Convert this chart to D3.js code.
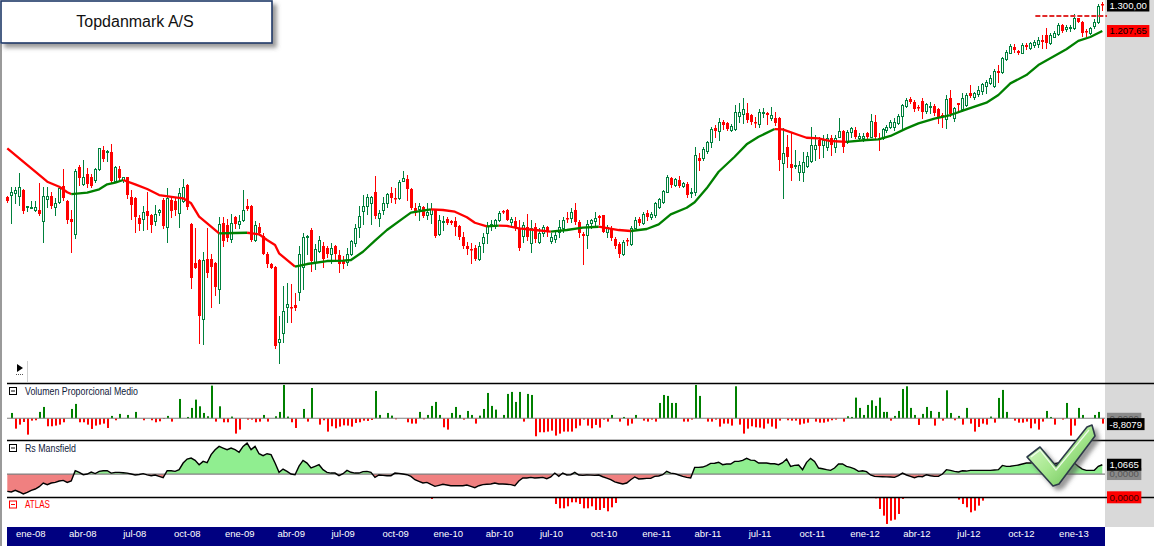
<!DOCTYPE html>
<html><head><meta charset="utf-8">
<script src="https://cdn.jsdelivr.net/npm/d3@7/dist/d3.min.js"></script>
<style>
html,body{margin:0;padding:0;background:#fff;overflow:hidden;}
svg{display:block;}
text{font-family:"Liberation Sans",Arial,sans-serif;}
</style></head><body>
<svg id="chart" width="1154" height="546"></svg>
<script>
// ---------------- DATA ----------------
const title = "Topdanmark A/S";
const startWeek = "2007-11-26";           // first weekly bar
const openP = [755,760,763,757,770,735,732,727,727,706,750,757,733,744,779,746,709,680,821,782,805,798,792,816,862,859,858,790,817,792,798,754,753,712,709,725,718,705,723,748,694,748,746,721,747,781,700,626,631,534,633,633,626,581,702,697,670,714,700,707,736,736,669,694,676,642,625,619,500,514,552,553,555,577,619,675,687,628,648,657,653,642,657,640,630,628,642,663,693,726,736,743,765,712,727,741,763,752,752,790,794,771,732,729,733,717,719,727,679,705,710,706,706,695,673,657,652,654,633,663,681,697,695,708,726,727,704,705,689,676,693,663,694,665,682,694,666,670,684,692,711,712,727,704,679,678,702,705,715,717,684,692,670,660,642,668,660,692,710,702,722,714,717,734,744,766,796,781,792,779,782,763,766,844,842,860,882,918,910,934,930,912,915,950,954,957,952,934,927,957,957,943,944,943,830,870,829,823,811,809,825,836,865,887,874,870,893,870,895,910,882,908,912,891,892,904,895,933,893,891,912,919,921,931,949,977,996,989,974,991,963,974,977,968,952,940,998,945,984,967,979,1012,1001,1010,1020,1033,1041,1033,1079,1076,1115,1136,1155,1141,1136,1161,1150,1161,1163,1177,1194,1166,1189,1197,1228,1216,1219,1217,1252,1240,1209,1200,1226,1240,1305];
const highP = [757,776,777,807,771,736,746,746,785,777,777,766,752,777,816,748,727,816,826,838,819,805,819,868,872,862,876,825,824,799,799,770,755,717,736,765,720,738,729,752,774,755,752,774,794,782,702,692,633,645,691,642,628,714,714,710,719,716,717,770,750,738,705,702,681,646,626,621,538,587,591,590,575,657,682,678,691,661,676,665,657,662,659,649,639,653,669,699,736,759,761,757,802,727,754,764,777,775,792,812,803,774,741,743,736,741,743,729,717,715,714,707,714,697,684,665,662,659,665,682,704,707,710,726,727,729,714,714,707,704,719,708,702,691,698,695,681,684,707,714,723,732,741,707,684,707,710,724,717,718,697,696,674,664,668,671,696,714,714,724,727,724,745,753,770,803,799,797,802,788,787,774,870,854,870,884,921,925,943,938,932,927,979,984,1000,984,956,947,968,970,959,974,959,947,917,900,908,862,836,858,858,921,900,895,900,903,900,900,945,912,912,921,919,904,904,908,955,952,904,917,925,939,943,956,982,998,1003,993,979,998,986,988,982,972,957,1007,1022,974,984,1012,1012,1036,1017,1033,1043,1051,1066,1083,1097,1123,1144,1164,1164,1144,1166,1168,1172,1179,1188,1194,1217,1200,1209,1234,1231,1228,1228,1267,1254,1243,1213,1222,1248,1304,1312];
const lowP = [745,702,741,738,722,725,731,725,717,665,734,731,718,741,748,702,646,671,781,781,777,776,788,815,836,836,788,788,792,788,752,710,684,687,687,690,684,697,717,692,664,714,717,694,745,729,584,617,499,498,602,552,572,559,656,666,664,692,692,705,727,666,666,678,642,619,617,492,471,501,529,529,548,564,581,642,612,615,645,619,637,626,631,611,617,622,640,657,674,700,719,700,712,695,720,734,745,743,750,790,748,729,717,708,714,710,702,673,678,687,700,700,678,670,654,643,626,631,631,646,662,687,691,705,721,707,697,687,649,665,668,646,665,663,675,676,662,665,674,684,704,704,700,674,625,653,691,694,700,683,674,668,653,637,640,659,659,691,697,700,707,710,714,731,741,765,777,779,777,777,755,755,759,815,838,854,870,895,887,916,912,910,912,934,931,934,927,921,921,947,927,938,925,815,752,822,792,820,792,790,822,834,838,842,846,862,850,858,894,858,880,895,892,887,884,889,894,891,862,889,908,917,912,928,917,974,984,964,965,945,957,957,952,931,919,917,949,936,961,964,977,1003,995,1005,1010,1012,1039,1030,1046,1073,1112,1134,1139,1131,1134,1147,1147,1155,1155,1150,1150,1164,1186,1194,1205,1209,1209,1213,1240,1191,1191,1197,1217,1237,1282];
const closeP = [746,765,770,776,725,736,733,734,719,757,757,736,741,774,752,707,704,812,797,799,782,779,816,866,840,860,790,821,796,798,760,738,714,699,723,716,698,720,727,695,752,726,727,763,776,734,600,618,538,631,609,619,585,700,666,671,702,700,705,727,729,668,697,681,643,624,618,495,505,546,557,551,551,643,674,676,630,651,668,633,642,653,642,625,625,643,667,691,715,736,754,754,716,722,743,761,753,751,788,796,771,732,722,736,715,724,729,676,707,706,702,702,694,673,656,651,649,634,657,673,695,699,708,721,723,708,709,693,654,697,674,691,670,682,694,684,674,678,694,707,709,724,704,681,676,699,708,712,712,684,694,671,656,643,665,666,692,707,702,720,714,720,741,750,768,799,781,794,779,785,760,766,850,836,865,882,915,910,933,925,915,923,959,961,968,939,934,930,961,959,951,952,930,838,854,846,819,826,826,834,848,874,874,873,887,893,874,893,910,870,908,917,894,897,897,895,936,894,889,914,921,934,934,949,979,993,989,967,970,961,981,977,958,947,947,995,955,970,980,998,1007,1005,1012,1022,1039,1046,1056,1079,1073,1118,1139,1158,1144,1134,1161,1155,1166,1172,1179,1171,1166,1194,1202,1228,1209,1222,1222,1252,1240,1200,1205,1217,1240,1296,1300];
const maWeek  = [0,3,7,10,13,15,16,20,23,25,27,29,32,35,38,42,44,46,48,51,53,57,60,63,65,67,68,72,75,80,84,86,89,92,95,99,101,104,106,109,112,115,117,120,123,125,128,132,136,140,144,148,153,156,160,163,166,170,172,175,178,182,185,188,192,194,198,200,203,206,210,215,218,221,225,228,232,236,240,245,248,251,255,258,261,265,268,271,274];
const maValue = [866.3,842,810.7,788.1,777,764.8,761,764,771.3,782.3,785.9,791.9,782.3,772,758.9,754,751.9,741.3,713.7,693.7,680.9,681.5,682,679,668.1,658.7,643.3,619.4,624.2,629.5,630.2,631.3,646.3,666.8,687.3,710.4,721.9,726,728.8,727.4,723.9,712.5,701.6,694.5,696,695.5,690.6,687.3,684,687.3,691.8,693.7,687.3,685.4,689.3,698.5,718.5,732.1,743.5,773.5,810.7,845.9,876.1,895.1,914.9,914.1,899.5,892.6,891,884.4,882,886.9,888.7,897.1,916.6,929.7,942.5,951.9,967.4,985.8,1007.4,1041.2,1066.1,1096.8,1117.8,1146.7,1174.3,1187.3,1207.65];
const levelValue = 1260, levelFromWeek = 258;
const volValue = [0,8.8,-17.1,-10.5,-6.1,-27,-3.9,-3.3,10.5,18.7,-13.2,-13.2,-12.1,-10.5,-6.6,0,15.4,23.7,-6.6,-6.6,-10.5,-17.6,-12.1,-10.5,-8.8,-16,3.9,-3.3,7.2,0,5.5,0,10.5,0,-3.3,0,-3.3,-6.6,-5,-1.1,3.9,-5.5,0,31.9,0,2.2,17.1,30.8,19.8,8.8,3.3,53.9,-5.5,19.8,-6.6,-6.6,2.8,-25.3,-18.7,0,-2.2,-2.2,-6.6,-5.5,5.5,-5.5,0,3.3,10.5,55,2.8,-6.6,-16,0,15.4,-5.5,50,0,-10.5,-3.3,-22,-13.2,-16.5,-13.8,-11.6,-12.1,-13.8,-7.7,-6.6,-3.9,-4.4,-2.8,45.1,5.5,0,8.8,4.4,-1.7,0,0,-6.6,-8.8,-8.8,10.5,-1.7,5.5,20.4,27,5.5,-14.9,-18.7,8.8,18.7,5.5,-2.2,12.1,5.5,-8.8,4.4,15.4,41.8,20.4,14.3,0,5.5,40.2,43.5,27,43.5,-5.5,40.2,38.5,-29.7,-23.1,-23.1,-22,-20.4,-28.6,-25.3,-22,-22,-22,-16.5,-12.1,-2.2,-12.1,-16.5,-11,-15.4,-2.2,-5.5,5.5,0,-5.5,2.2,-12.1,-8.8,5.5,0,-3.9,-5.5,-2.2,-5.5,25.3,38.5,36.9,25.3,25.3,0,-5.5,-5.5,-2.2,55,36.9,0,-5.5,-5.5,-2.2,-13.8,-8.8,-8.8,-12.1,52.8,-10.5,-25.3,-17.1,-13.2,-14.9,-15.4,-17.1,-8.8,-13.8,-17.1,-3.9,0,-3.3,-3.9,-3.9,-10.5,-8.8,-7.2,0,-5.5,-7.2,-7.2,-5.5,-3.3,-2.2,0,-5.5,3.3,2.2,34.1,17.1,5.5,22,29.7,20.4,34.1,10.5,10.5,-3.9,3.9,12.1,48.4,52.8,17.1,5.5,-11,7.2,18.7,12.1,-12.1,10.5,-3.9,46.2,8.8,-3.3,3.9,-10.5,17.1,-8.8,-22,-14.3,-8.8,-10.5,2.8,-7.2,33.6,46.8,10.5,0,-3.9,-7.2,-7.2,-5.5,-16.5,-8.8,-18.7,-5.5,12.1,2.2,-10.5,0,-2.2,25.3,-28.6,-12.1,17.1,5.5,0,0,5.5,10.5,-8.8079];
const rsValue = [-1.99,-2.06,-1.87,-2.06,-2.29,-2.10,-1.87,-1.72,-1.45,-1.03,-1.22,-1.03,-0.96,-0.80,-0.73,-0.96,-0.80,0.38,0.19,-0.08,0,0.23,0.05,0.31,0.38,0.38,0.11,0.19,0.19,0.15,0.11,0,-0.11,-0.05,0.04,-0.10,-0.19,-0.11,-0.27,-0.42,0.38,0.38,0.31,0.50,1.26,1.72,1.83,1.57,1.07,1.45,1.30,2.22,2.79,3.17,2.98,2.79,2.98,2.79,2.50,3.17,3.55,2.80,3.17,2.33,2.10,2.33,2.22,1.26,0.19,0.57,0.31,0,-0.08,0.90,1.57,1.26,0.69,0.88,1.07,0.50,0.19,0.11,0.11,-0.19,0.04,0.42,0.20,0.11,0.11,0.27,0.30,0.20,-0.38,-0.11,-0.15,-0.19,-0.19,0.11,0.08,0,-0.08,-0.27,-0.65,-0.84,-1.03,-0.96,-1.20,-1.41,-1.30,-1.18,-1.26,-1.34,-1.34,-1.34,-1.34,-1.26,-1.41,-1.57,-1.34,-1.22,-1.18,-1.15,-1.03,-1.15,-1.15,-1.18,-1.22,-1.34,-0.80,-0.46,-0.46,-0.38,-0.46,-0.42,-0.38,-0.53,-0.34,0.11,-0.27,0.11,-0.11,-0.08,0.19,-0.11,-0.15,-0.11,-0.13,-0.15,-0.11,-0.31,-0.46,-0.65,-0.90,-1.03,-1.15,-1.03,-0.65,-0.34,-0.57,-0.54,-0.50,-0.50,-0.27,-0.23,-0.08,0.31,0.11,0.04,-0.11,-0.27,-0.38,-0.46,0.76,0.76,0.80,0.96,1.22,1.24,1.35,1.07,1.15,1.15,1.45,1.45,1.57,1.80,1.60,1.57,1.26,1.26,1.26,1.18,1.18,1.07,1.30,1.72,0.88,0.99,1.03,0.50,1.34,1.80,1.45,0.69,0.60,0.50,0.42,0.69,1.15,1.15,0.88,0.76,0.60,0.31,0.38,0.27,-0.11,-0.27,-0.30,-0.31,-0.33,-0.34,-0.38,-0.19,0.11,-0.11,-0.27,-0.42,-0.27,-0.31,-0.08,-0.20,-0.27,-0.27,0,0.50,0.42,0.30,0.23,0.38,0.34,0.42,0.42,0.42,0.42,0.42,0.42,0.46,0.50,0.99,0.88,0.90,0.96,1.03,1.15,1.26,1.26,1.34,1.36,1.38,1.26,1.18,1.20,1.26,1.41,1.50,1.57,1.26,0.88,0.57,0.42,0.42,0.42,0.88,1.0665];
const atlasWeek  = [106,137,138,139,140,141,142,143,144,145,146,147,148,149,150,151,152,217,218,219,220,221,222,223,224,238,239,240,241,242,243,244];
const atlasValue = [-0.5,-2.0,-3.3,-3.3,-2.7,-1.5,-1.5,-2.0,-3.3,-3.3,-2.7,-3.8,-3.8,-3.2,-4.2,-3.0,-1.7,-0.3,-3.5,-5.5,-8.0,-7.0,-6.7,-5.0,-0.5,-0.7,-2.0,-3.0,-4.5,-4.0,-2.5,-1.0];
const monthsEs = ["ene","feb","mar","abr","may","jun","jul","ago","sep","oct","nov","dic"];
const tickLabels = ["ene-08","abr-08","jul-08","oct-08","ene-09","abr-09","jul-09","oct-09","ene-10","abr-10","jul-10","oct-10","ene-11","abr-11","jul-11","oct-11","ene-12","abr-12","jul-12","oct-12","ene-13"];
const panelNames = ["Volumen Proporcional Medio","Rs Mansfield","ATLAS"];

// ---------------- DRAW ----------------
const svg = d3.select("#chart");
const loc = d3.formatLocale({decimal:",", thousands:".", grouping:[3], currency:["","€"], minus:"-"});
const f2 = loc.format(",.2f"), f4 = loc.format(".4f");
const parse = d3.timeParse("%Y-%m-%d");
const d0 = parse(startWeek);
const dates = closeP.map((_, i) => d3.timeDay.offset(d0, 7 * i));
const x = d3.scaleTime().domain([dates[0], dates[dates.length - 1]]).range([7.3, 1102.3]);
const xw = i => x(d3.timeDay.offset(d0, 7 * i));
const y = d3.scaleLog().domain([468.9, 1318.6]).range([365, 0]);
const vy = d3.scaleLinear().domain([-40, 57.75]).range([442.5, 383.3]);
const ry = d3.scaleLinear().domain([-2.67, 3.87]).range([497.3, 440.3]);
const ay = d3.scaleLinear().domain([-9, 0]).range([527.3, 497.3]);

const GREEN_C = "#00803c", RED = "#ff0000", GREEN = "#008000";
const PR = 1105; // plot right edge

const defs = svg.append("defs");
function clip(id, x0, y0, w, h) { defs.append("clipPath").attr("id", id).append("rect").attr("x", x0).attr("y", y0).attr("width", w).attr("height", h); }
clip("cMain", 6, 0, PR - 6, 383);
clip("cVol", 6, 384, PR - 6, 56);
clip("cRs", 6, 441, PR - 6, 56);
clip("cRsPos", 6, 441, PR - 6, ry(0) - 441);
clip("cRsNeg", 6, ry(0), PR - 6, 497 - ry(0));
clip("cAt", 6, 498, PR - 6, 29);
const sh = defs.append("filter").attr("id", "shadow").attr("x", "-20%").attr("y", "-20%").attr("width", "150%").attr("height", "160%");
sh.append("feDropShadow").attr("dx", 4).attr("dy", 4).attr("stdDeviation", 2).attr("flood-color", "#555").attr("flood-opacity", 0.6);
const bl = defs.append("filter").attr("id", "blur"); bl.append("feGaussianBlur").attr("stdDeviation", 2);
const gr = defs.append("linearGradient").attr("id", "chk").attr("x1", "0").attr("y1", "0").attr("x2", "1").attr("y2", "1");
gr.append("stop").attr("offset", "0").attr("stop-color", "#e6ffd8");
gr.append("stop").attr("offset", "0.5").attr("stop-color", "#a8e890");
gr.append("stop").attr("offset", "1").attr("stop-color", "#5cb848");

svg.append("rect").attr("width", 1154).attr("height", 546).attr("fill", "#fff");
// right gray scale area
svg.append("rect").attr("x", PR).attr("y", 0).attr("width", 1154 - PR).attr("height", 527).attr("fill", "#d9d9d9");
// left gray edge
svg.append("rect").attr("x", 0).attr("y", 44).attr("width", 2).attr("height", 502).attr("fill", "#9a9a9a");

// ---- main candles ----
const cd = dates.map((d, i) => ({ d, o: openP[i], h: highP[i], l: lowP[i], c: closeP[i] }));
const gM = svg.append("g").attr("clip-path", "url(#cMain)");
cd.forEach(k => {
  const cx = Math.round(x(k.d));
  const up = k.c >= k.o;
  const col = up ? GREEN_C : RED;
  gM.append("line").attr("x1", cx + 0.5).attr("x2", cx + 0.5).attr("y1", Math.round(y(k.h))).attr("y2", Math.round(y(k.l)) + 1).attr("stroke", col).attr("stroke-width", 1);
  const t = Math.round(y(Math.max(k.o, k.c))), b = Math.round(y(Math.min(k.o, k.c)));
  if (up) {
    gM.append("rect").attr("x", cx - 0.5).attr("y", t + 0.5).attr("width", 2).attr("height", Math.max(b - t, 1)).attr("fill", "#fff").attr("stroke", col).attr("stroke-width", 1);
  } else {
    gM.append("rect").attr("x", cx - 1).attr("y", t).attr("width", 3).attr("height", Math.max(b - t, 1.5)).attr("fill", col);
  }
});
// moving average coloured by direction
const maPts = maWeek.map((w, i) => [xw(w), y(maValue[i]), maValue[i]]);
const segs = []; let cur = null;
for (let i = 1; i < maPts.length; i++) {
  const col = maPts[i][2] >= maPts[i - 1][2] ? GREEN : RED;
  if (!cur || cur.col !== col) { cur = { col, pts: [maPts[i - 1]] }; segs.push(cur); }
  cur.pts.push(maPts[i]);
}
const ln = d3.line().x(p => p[0]).y(p => p[1]);
segs.forEach(s => gM.append("path").attr("d", ln(s.pts)).attr("fill", "none").attr("stroke", s.col).attr("stroke-width", 2.3).attr("stroke-linejoin", "round"));
// level line
const lx = xw(levelFromWeek) - 3, ly = y(levelValue);
svg.append("line").attr("x1", lx).attr("x2", PR).attr("y1", ly + 5).attr("y2", ly + 5).attr("stroke", "#999").attr("stroke-width", 4).attr("opacity", 0.45).attr("filter", "url(#blur)");
svg.append("line").attr("x1", lx).attr("x2", PR + 2).attr("y1", ly).attr("y2", ly).attr("stroke", "#e02a2a").attr("stroke-width", 2).attr("stroke-dasharray", "5,2");

// ---- volume panel ----
const gV = svg.append("g").attr("clip-path", "url(#cVol)");
volValue.forEach((v, i) => {
  if (v === 0) return;
  const cx = Math.round(xw(i));
  const y0 = vy(0), y1 = vy(v);
  gV.append("rect").attr("x", cx).attr("width", 2).attr("y", Math.min(y0, y1)).attr("height", Math.abs(y1 - y0)).attr("fill", v > 0 ? GREEN : RED);
});
svg.append("line").attr("x1", 7).attr("x2", PR).attr("y1", vy(0)).attr("y2", vy(0)).attr("stroke", "#808080").attr("stroke-width", 1.2);

// ---- RS Mansfield ----
const rsPts = rsValue.map((v, i) => [xw(i), ry(v)]);
const ar = d3.area().x(p => p[0]).y0(ry(0)).y1(p => p[1]);
const gR = svg.append("g").attr("clip-path", "url(#cRs)");
gR.append("path").attr("d", ar(rsPts)).attr("fill", "#90ee90").attr("clip-path", "url(#cRsPos)");
gR.append("path").attr("d", ar(rsPts)).attr("fill", "#f08080").attr("clip-path", "url(#cRsNeg)");
gR.append("line").attr("x1", 7).attr("x2", PR).attr("y1", ry(0)).attr("y2", ry(0)).attr("stroke", "#808080").attr("stroke-width", 1.2);
gR.append("path").attr("d", ln(rsPts)).attr("fill", "none").attr("stroke", "#000").attr("stroke-width", 1.4);

// ---- ATLAS ----
const gA = svg.append("g").attr("clip-path", "url(#cAt)");
atlasWeek.forEach((w, i) => {
  const cx = Math.round(xw(w));
  gA.append("rect").attr("x", cx).attr("width", 2).attr("y", ay(0)).attr("height", ay(atlasValue[i]) - ay(0)).attr("fill", RED);
});

// ---- separators ----
[383.5, 440.5, 497.5].forEach(yy => svg.append("line").attr("x1", 7).attr("x2", 1154).attr("y1", yy).attr("y2", yy).attr("stroke", "#000").attr("stroke-width", 1.5));

// panel titles
const titles = [{ y: 387, c: "#000", tc: "#10203a", w: 113 }, { y: 444, c: "#000", tc: "#10203a", w: 51 }, { y: 500.5, c: RED, tc: RED, w: 25 }];
titles.forEach((t, i) => {
  svg.append("rect").attr("x", 9.5).attr("y", t.y + 0.5).attr("width", 7).attr("height", 7).attr("fill", "#fff").attr("stroke", t.c).attr("stroke-width", 1);
  svg.append("line").attr("x1", 11).attr("x2", 15).attr("y1", t.y + 4).attr("y2", t.y + 4).attr("stroke", t.c).attr("stroke-width", 1);
  svg.append("text").attr("x", 25).attr("y", t.y + 7.5).attr("font-size", 10).attr("fill", t.tc)
    .attr("textLength", t.w).attr("lengthAdjust", "spacingAndGlyphs").text(panelNames[i]);
});

// small play button
svg.append("path").attr("d", "M17,364 L17,372 L23,368 Z").attr("fill", "#000");
svg.append("line").attr("x1", 16).attr("x2", 24).attr("y1", 374.5).attr("y2", 374.5).attr("stroke", "#555").attr("stroke-dasharray", "1,1");
svg.append("line").attr("x1", 27.5).attr("x2", 27.5).attr("y1", 361).attr("y2", 382).attr("stroke", "#d0d0d0");

// ---- value labels on right ----
function valLabel(yv, txt, bg, fg) {
  const g = svg.append("g");
  const r = g.append("rect").attr("fill", bg);
  const t = g.append("text").attr("y", yv + 3.4).attr("font-size", 9.6).attr("fill", fg).attr("text-anchor", "middle").text(txt);
  const w = t.node().getComputedTextLength() + 5;
  t.attr("x", 1107 + w / 2);
  r.attr("x", 1107).attr("y", yv - 6).attr("width", w).attr("height", 12);
}
valLabel(Math.max(y(closeP[closeP.length - 1]), 5.5), f2(closeP[closeP.length - 1]), "#000", "#fff");
valLabel(y(maValue[maValue.length - 1]), f2(maValue[maValue.length - 1]), "#ff0000", "#000");
valLabel(vy(0) + 0.5, f4(0), "#8a8a8a", "#555");
valLabel(vy(volValue[volValue.length - 1]) + 0.5, f4(volValue[volValue.length - 1]), "#000", "#fff");
valLabel(ry(0), f4(0), "#8a8a8a", "#555");
valLabel(ry(rsValue[rsValue.length - 1]), f4(rsValue[rsValue.length - 1]), "#000", "#fff");
valLabel(ay(0), f4(0), "#ff0000", "#3a0000");

// ---- time axis band ----
svg.append("rect").attr("x", 7).attr("y", 527).attr("width", PR - 7).attr("height", 19).attr("fill", "#000080");
const tickDates = tickLabels.map(s => new Date(2000 + +s.slice(4), monthsEs.indexOf(s.slice(0, 3)), 1));
const ax = svg.append("g").attr("transform", "translate(0,527)")
  .call(d3.axisBottom(x).tickValues(tickDates).tickFormat((d, i) => tickLabels[i]).tickSize(0));
ax.select(".domain").remove();
ax.selectAll("text").attr("y", 10).attr("dy", 0).attr("dx", 2.5).attr("fill", "#fff").attr("font-size", 9.5).attr("font-family", "Liberation Sans, Arial, sans-serif");

// ---- title box ----
svg.append("rect").attr("x", 1).attr("y", 1).attr("width", 271).attr("height", 42).attr("fill", "#fff").attr("stroke", "#1f3a68").attr("stroke-width", 1.6).attr("filter", "url(#shadow)");
svg.append("text").attr("x", 135).attr("y", 27).attr("text-anchor", "middle").attr("font-size", 16).attr("fill", "#111").text(title);

// ---- check mark ----
svg.append("path").attr("d", "M1027,457 L1040,447 L1056,466 L1087,427 L1092,425 L1095,436 L1059,484 L1053,486 Z")
  .attr("fill", "url(#chk)").attr("stroke", "#2d3a4a").attr("stroke-width", 1.6).attr("stroke-linejoin", "round").attr("filter", "url(#shadow)");
svg.append("path").attr("d", "M1031,457 L1040,450 L1056,470 L1089,430").attr("fill", "none").attr("stroke", "#ffffff").attr("stroke-width", 1.2).attr("opacity", 0.8);
</script>
</body></html>
